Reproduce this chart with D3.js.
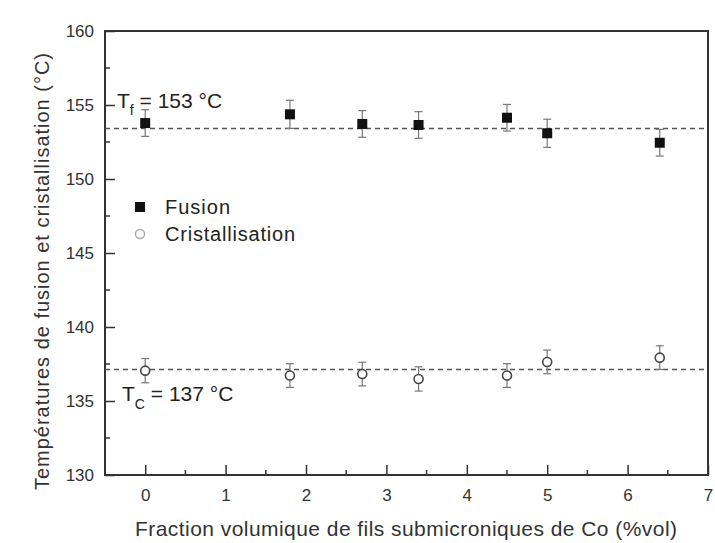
<!DOCTYPE html>
<html><head><meta charset="utf-8">
<script src="https://cdn.jsdelivr.net/npm/d3@7"></script>
<style>body{margin:0;background:#fff}svg{display:block;font-family:"Liberation Sans",Arial,sans-serif}</style>
</head><body><div id="chart"></div>
<script>
const xValues = [0, 1.8, 2.7, 3.4, 4.5, 5, 6.4];
const fusion = [153.78, 154.37, 153.72, 153.65, 154.14, 153.09, 152.45];
const fusionErr = [0.9, 0.95, 0.9, 0.9, 0.9, 0.95, 0.9];
const cristal = [137.05, 136.72, 136.82, 136.49, 136.72, 137.64, 137.93];
const cristalErr = [0.82, 0.8, 0.8, 0.82, 0.8, 0.8, 0.8];
const xTicks = [0, 1, 2, 3, 4, 5, 6, 7];
const yTicks = [130, 135, 140, 145, 150, 155, 160];
const refLines = [{v: 153.42, main: "T", sub: "f", txt: " = 153 °C"}, {v: 137.13, main: "T", sub: "C", txt: " = 137 °C"}];

const W = 715, H = 543;
const m = {l: 105, r: 7, t: 31, b: 68};
const svg = d3.select("#chart").append("svg").attr("width", W).attr("height", H);
const x = d3.scaleLinear().domain([-0.5, 7]).range([m.l, W - m.r]);
const y = d3.scaleLinear().domain([130, 160]).range([H - m.b, m.t]);
const axisCol = "#333";

// minor ticks
const g = svg.append("g");
d3.range(-0.5, 7.01, 0.5).filter(v => !xTicks.includes(v) && v > -0.5).forEach(v => {
  g.append("line").attr("x1", x(v)).attr("x2", x(v)).attr("y1", y(130)).attr("y2", y(130) - 5).attr("stroke", axisCol).attr("stroke-width", 1.5);
});
d3.range(130, 160.01, 2.5).filter(v => !yTicks.includes(v)).forEach(v => {
  g.append("line").attr("x1", x(-0.5)).attr("x2", x(-0.5) + 5).attr("y1", y(v)).attr("y2", y(v)).attr("stroke", axisCol).attr("stroke-width", 1.5);
});

// axes
const xAxis = svg.append("g").attr("transform", `translate(0,${y(130)})`)
  .call(d3.axisBottom(x).tickValues(xTicks).tickSizeInner(-10).tickSizeOuter(0).tickPadding(14));
const yAxis = svg.append("g").attr("transform", `translate(${x(-0.5)},0)`)
  .call(d3.axisLeft(y).tickValues(yTicks).tickSizeInner(-10).tickSizeOuter(0).tickPadding(11));
[xAxis, yAxis].forEach(a => {
  a.selectAll("path").remove();
  a.selectAll("line").attr("stroke", axisCol).attr("stroke-width", 1.5);
  a.selectAll("text").attr("fill", "#333").style("font-size", "17px");
});
xAxis.selectAll("text").attr("dy", "0.71em");
// frame
svg.append("rect").attr("x", x(-0.5)).attr("y", y(160)).attr("width", x(7) - x(-0.5)).attr("height", y(130) - y(160))
  .attr("fill", "none").attr("stroke", axisCol).attr("stroke-width", 2);

// reference dashed lines
svg.selectAll(".ref").data(refLines).enter().append("line")
  .attr("x1", x(-0.5)).attr("x2", x(7)).attr("y1", d => y(d.v)).attr("y2", d => y(d.v))
  .attr("stroke", "#555").attr("stroke-width", 1.5).attr("stroke-dasharray", "5,4");

// annotations
const ann = [{r: refLines[0], x: 117, y: 108, sy: 7}, {r: refLines[1], x: 122, y: 401, sy: 8}];
ann.forEach(a => {
  const t = svg.append("text").attr("x", a.x).attr("y", a.y).attr("fill", "#222").style("font-size", "21px");
  t.append("tspan").text(a.r.main);
  t.append("tspan").attr("dy", a.sy).style("font-size", "14px").text(a.r.sub);
  t.append("tspan").attr("dy", -a.sy).text(a.r.txt);
});

// error bars
function errBars(vals, errs, col) {
  const gg = svg.append("g").attr("stroke", col).attr("stroke-width", 1.2);
  xValues.forEach((xv, i) => {
    gg.append("line").attr("x1", x(xv)).attr("x2", x(xv)).attr("y1", y(vals[i] - errs[i])).attr("y2", y(vals[i] + errs[i]));
    [vals[i] - errs[i], vals[i] + errs[i]].forEach(e => {
      gg.append("line").attr("x1", x(xv) - 4).attr("x2", x(xv) + 4).attr("y1", y(e)).attr("y2", y(e));
    });
  });
}
errBars(fusion, fusionErr, "#777");
errBars(cristal, cristalErr, "#777");

// markers
svg.selectAll(".fus").data(xValues).enter().append("rect")
  .attr("x", (d) => x(d) - 5).attr("y", (d, i) => y(fusion[i]) - 5).attr("width", 10).attr("height", 10).attr("fill", "#111");
svg.selectAll(".cri").data(xValues).enter().append("circle")
  .attr("cx", d => x(d)).attr("cy", (d, i) => y(cristal[i])).attr("r", 4.5).attr("fill", "#fff").attr("stroke", "#444").attr("stroke-width", 1.6);

// legend
const lg = svg.append("g");
lg.append("rect").attr("x", 135).attr("y", 202).attr("width", 10).attr("height", 10).attr("fill", "#111");
lg.append("text").attr("x", 165).attr("y", 214).text("Fusion").attr("fill", "#222").style("font-size", "20px")
  .attr("textLength", 65).attr("lengthAdjust", "spacing");
lg.append("circle").attr("cx", 140).attr("cy", 234).attr("r", 4.5).attr("fill", "#fff").attr("stroke", "#aaa").attr("stroke-width", 1.4);
lg.append("text").attr("x", 165).attr("y", 241).text("Cristallisation").attr("fill", "#222").style("font-size", "20px")
  .attr("textLength", 130).attr("lengthAdjust", "spacing");

// axis titles
svg.append("text").attr("x", 135).attr("y", 536)
  .attr("fill", "#333").style("font-size", "21px").attr("textLength", 542).attr("lengthAdjust", "spacing")
  .text("Fraction volumique de fils submicroniques de Co (%vol)");
svg.append("text").attr("transform", `translate(49,490) rotate(-90)`)
  .attr("fill", "#333").style("font-size", "20px").attr("textLength", 437).attr("lengthAdjust", "spacing")
  .text("Températures de fusion et cristallisation (°C)");
</script></body></html>
